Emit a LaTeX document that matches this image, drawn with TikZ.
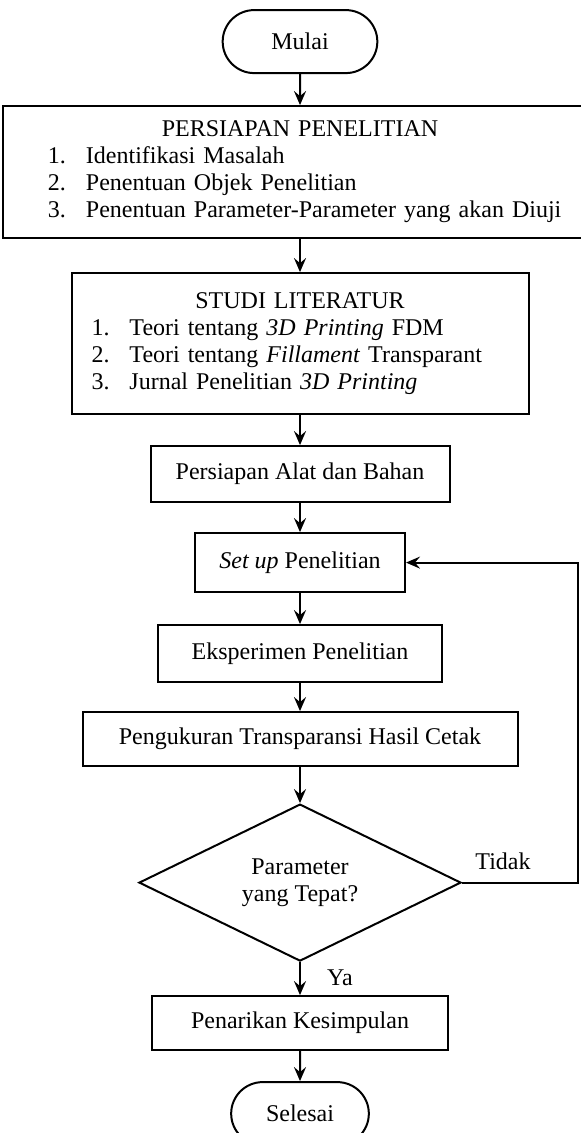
\documentclass[tikz,border=0pt]{standalone}
\usepackage{fontspec}
\setmainfont{Liberation Serif}
\usetikzlibrary{arrows.meta, positioning, shapes.geometric, shapes.misc, calc}
\newcommand{\butir}[2]{\makebox[19pt][l]{#1}#2}

\begin{document}
\begin{tikzpicture}[
    font=\fontsize{12}{13.5}\selectfont,
    proses/.style={rectangle, draw, line width=1pt, minimum height=28pt, align=center},
    daftar/.style={rectangle, draw, line width=1pt, inner xsep=0pt},
    terminal/.style={rounded rectangle, draw, line width=1pt, minimum height=31.5pt},
    keputusan/.style={diamond, draw, line width=1pt, aspect=2, minimum width=161pt, minimum height=78.5pt, inner sep=0pt, align=center},
    panah/.style={-{Stealth[length=7pt, width=6pt, inset=2.5pt]}, line width=1pt},
    teks/.style={font=\fontsize{12}{13.5}\selectfont}
]
\useasboundingbox (0,0) rectangle (290pt,-566.5pt);

% Start
\node[terminal, minimum width=84pt] (mulai) at (150pt,-20.8pt) {Mulai};

% Preparation and literature
\node[daftar, text width=297pt, minimum height=66pt] (persiapan) [below=15.5pt of mulai] {%
    \centering PERSIAPAN PENELITIAN\par
    \raggedright\leftskip=22.5pt
    \butir{1.}{Identifikasi Masalah}\par
    \butir{2.}{Penentuan Objek Penelitian}\par
    \butir{3.}{Penentuan Parameter-Parameter yang akan Diuji}\par};
\node[daftar, text width=228.5pt, minimum height=70.5pt] (studi) [below=16.5pt of persiapan] {%
    \centering STUDI LITERATUR\par
    \raggedright\leftskip=10pt
    \butir{1.}{Teori tentang \textit{3D Printing} FDM}\par
    \butir{2.}{Teori tentang \textit{Fillament} Transparant}\par
    \butir{3.}{Jurnal Penelitian \textit{3D Printing}}\par
    \vspace{8pt}};

% Process steps
\node[proses, minimum width=149.5pt] (alat) [below=15pt of studi] {Persiapan Alat dan Bahan};
\node[proses, minimum width=105pt, minimum height=29.5pt] (setup) [below=14.5pt of alat] {\textit{Set up} Penelitian};
\node[proses, minimum width=142pt, minimum height=28.5pt] (eksperimen) [below=15.5pt of setup] {Eksperimen Penelitian};
\node[proses, minimum width=217.5pt, minimum height=27pt] (pengukuran) [below=14pt of eksperimen] {Pengukuran Transparansi Hasil Cetak};

% Decision
\node[keputusan] (cek) [below=18pt of pengukuran] {Parameter\\yang Tepat?};

% End
\node[proses, minimum width=148pt, minimum height=27pt] (penarikan) [below=16.5pt of cek] {Penarikan Kesimpulan};
\node[terminal, minimum width=75.5pt] (selesai) [below=15pt of penarikan] {Selesai};

% Flow
\draw[panah] (mulai) -- (persiapan);
\draw[panah] (persiapan) -- (studi);
\draw[panah] (studi) -- (alat);
\draw[panah] (alat) -- (setup);
\draw[panah] (setup) -- (eksperimen);
\draw[panah] (eksperimen) -- (pengukuran);
\draw[panah] (pengukuran) -- (cek);
\draw[panah] (cek) -- (penarikan);
\draw[panah] (penarikan) -- (selesai);

% Loop back when the parameters are not right
\coordinate (balik) at (289pt,0pt);
\draw[panah] (cek.east) -- (cek.east -| balik) |- (setup.east);
\node[teks] (tidak) at ($(cek.east)+(20.5pt,10.5pt)$) {Tidak};
\node[teks] (ya) at ($(cek.south)+(20pt,-8pt)$) {Ya};

\end{tikzpicture}
\end{document}
